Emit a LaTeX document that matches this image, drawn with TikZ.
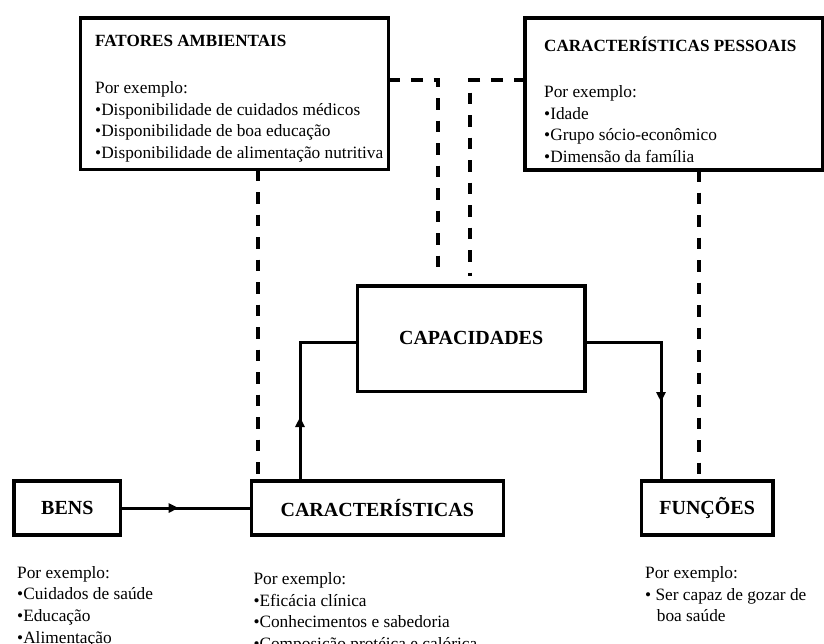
\documentclass[tikz,border=0pt]{standalone}
\usepackage{fontspec}
\setmainfont{Liberation Serif}
\usetikzlibrary{arrows.meta,decorations.markings,calc}

% invisible rule that fixes the height of the first line of a list
\newcommand{\listtop}{\rule{0pt}{15pt}}

\begin{document}
\begin{tikzpicture}[x=1pt,y=-1pt,
  box/.style={draw, line width=3.4pt, inner sep=0pt, outer sep=0pt},
  boxlabel/.style={font=\fontsize{20}{24}\selectfont\bfseries},
  heading/.style={font=\fontsize{17.1}{20}\selectfont\bfseries, inner sep=0pt, anchor=base west},
  listing/.style={font=\fontsize{17.3}{21.6}\selectfont, align=left, inner sep=0pt, anchor=north west},
  link/.style={line width=3pt},
  dashlink/.style={line width=3.4pt, dash pattern=on 11.5pt off 11pt},
  midarrow/.style={postaction={decorate, decoration={markings,
      mark=at position #1 with {\arrow{Triangle[length=10pt,width=9pt]}}}}},
]
\useasboundingbox (0,0) rectangle (824,643);

% boxes
\node[box, minimum width=308.2pt, minimum height=151.7pt] (amb) at (234.6,93.85) {};
\node[box, minimum width=297.5pt, minimum height=152pt] (pes) at (673.75,94) {};
\node[box, boxlabel, minimum width=227.7pt, minimum height=105.7pt] (cap) at (471.15,338.85) {\raisebox{2pt}{CAPACIDADES}};
\node[box, boxlabel, minimum width=106.7pt, minimum height=54pt] (bens) at (67.35,508) {BENS};
\node[box, boxlabel, minimum width=252pt, minimum height=54pt] (car) at (377.3,508) {CARACTERÍSTICAS};
\node[box, boxlabel, minimum width=131.7pt, minimum height=54pt] (fun) at (707.15,508) {FUNÇÕES};

% texts of the upper boxes (list nodes are placed 15pt above their first baseline)
\node[heading] (ambhead) at (95,46.7) {FATORES AMBIENTAIS};
\node[listing] (amblist) at (95,78.3) {\listtop Por exemplo:\\•Disponibilidade de cuidados médicos\\•Disponibilidade de boa educação\\•Disponibilidade de alimentação nutritiva};
\node[heading] (peshead) at (544,51.7) {CARACTERÍSTICAS PESSOAIS};
\node[listing] (peslist) at (544,82.3) {\listtop Por exemplo:\\•Idade\\•Grupo sócio-econômico\\•Dimensão da família};

% examples under the lower boxes
\node[listing] (benslist) at (17,563) {\listtop Por exemplo:\\•Cuidados de saúde\\•Educação\\•Alimentação};
\node[listing] (carlist) at (253.3,569.5) {\listtop Por exemplo:\\•Eficácia clínica\\•Conhecimentos e sabedoria\\•Composição protéica e calórica};
\node[listing] (funlist) at (645,563.3) {\listtop Por exemplo:\\• Ser capaz de gozar de\\\hspace*{11.7pt}boa saúde};

% solid connectors
\draw[link, midarrow=58pt] (bens.east) -- (car.west);
\draw[link, midarrow=64pt] ([xshift=-77.3pt]car.north) |- ([yshift=-3.15pt]cap.west);
\draw[link, midarrow=136pt] ([yshift=-3.15pt]cap.east) -| ([xshift=-46.15pt]fun.north);

% dashed influences
\coordinate (capinA) at (438,276);
\coordinate (capinB) at (470,276);
\draw[dashlink] ([yshift=13.85pt]amb.east) -| (capinA);
\draw[dashlink] ([yshift=14pt]pes.west) -| (capinB);
\draw[dashlink] ([xshift=23.4pt]amb.south) -- ([xshift=-119.3pt]car.north);
\draw[dashlink] ([xshift=25.25pt]pes.south) -- ([xshift=-8.15pt]fun.north);
\end{tikzpicture}
\end{document}
